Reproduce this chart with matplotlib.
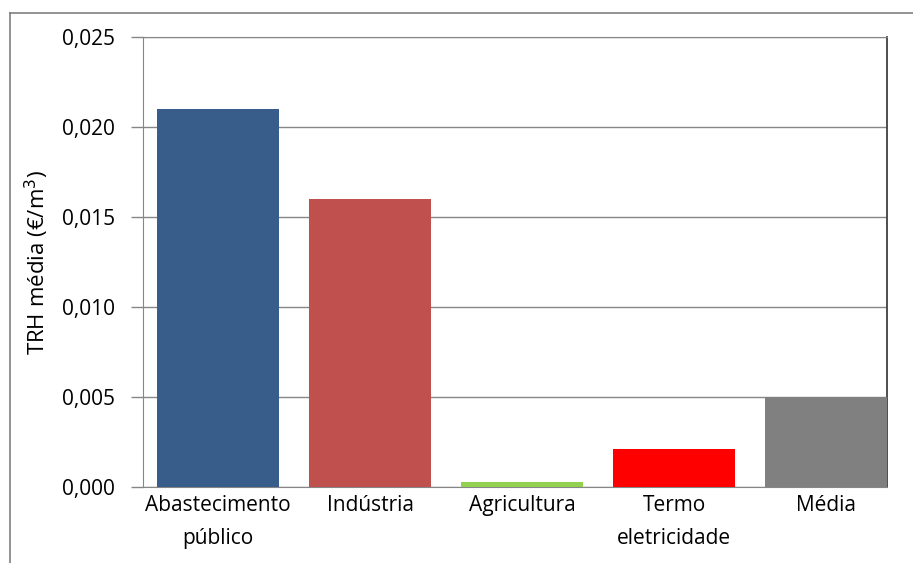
import matplotlib.pyplot as plt
from matplotlib.lines import Line2D

categories = ["Abastecimento\npúblico", "Indústria", "Agricultura", "Termo\neletricidade", "Média"]
trh_values = [0.021, 0.016, 0.0003, 0.0021, 0.005]
bar_colors = ["#385D8A", "#C0504D", "#92D050", "#FF0000", "#808080"]
y_ticks = [0.000, 0.005, 0.010, 0.015, 0.020, 0.025]

plt.rcParams["font.family"] = ["Open Sans", "DejaVu Sans"]

fig = plt.figure(figsize=(9.13, 5.63), dpi=100)
ax = fig.add_axes([143 / 913, 1 - 487 / 563, 744 / 913, 450 / 563])

ax.bar(range(len(categories)), trh_values, width=0.8, color=bar_colors, zorder=3)

ax.set_xlim(-0.493, 4.40)
ax.set_ylim(0, 0.025)
ax.set_yticks(y_ticks)
ax.set_yticklabels([f"{v:.3f}".replace(".", ",") for v in y_ticks], fontsize=15)
ax.set_xticks(range(len(categories)))
ax.set_xticklabels(categories, fontsize=15, linespacing=1.7)
ax.tick_params(axis="x", length=0, pad=6)
ax.tick_params(axis="y", length=9, color="#868686", width=1, pad=11)

ax.yaxis.grid(True, color="#868686", linewidth=1, zorder=0)
for side in ["left", "top", "bottom"]:
    ax.spines[side].set_color("#868686")
ax.spines["right"].set_color("#404040")
ax.spines["right"].set_linewidth(1.3)

ax.set_ylabel("TRH média (€/m$^3$)", fontsize=16, labelpad=8)

# outer chart frame
fig.add_artist(Line2D([10 / 913, 1], [1 - 13 / 563, 1 - 13 / 563], color="#808080", linewidth=1.2))
fig.add_artist(Line2D([10 / 913, 10 / 913], [0, 1 - 13 / 563], color="#808080", linewidth=1.2))

fig.savefig("out.png", dpi=100)
